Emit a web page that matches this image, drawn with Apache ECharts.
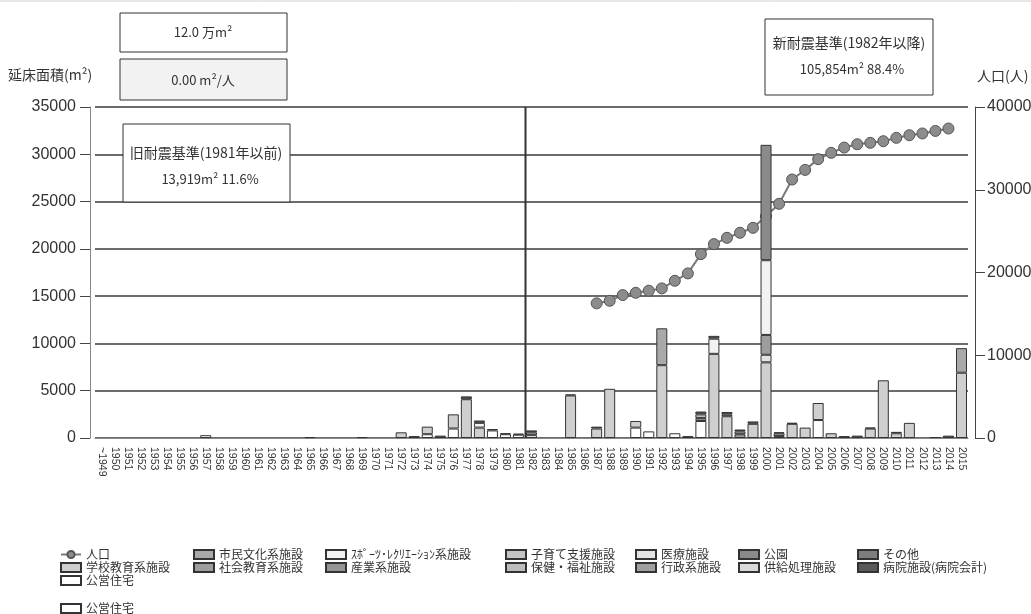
<!DOCTYPE html>
<html>
<head>
<meta charset="utf-8">
<script src="https://cdn.jsdelivr.net/npm/echarts@6/dist/echarts.min.js"></script>
<style>
  html, body { margin: 0; padding: 0; background: #fff; }
  #chart { width: 1031px; height: 614px; }
</style>
</head>
<body>
<div id="chart"></div>
<script>
// 年度（カテゴリ）
const years = ['~1949', '1950', '1951', '1952', '1953', '1954', '1955', '1956', '1957', '1958', '1959',
  '1960', '1961', '1962', '1963', '1964', '1965', '1966', '1967', '1968', '1969',
  '1970', '1971', '1972', '1973', '1974', '1975', '1976', '1977', '1978', '1979',
  '1980', '1981', '1982', '1983', '1984', '1985', '1986', '1987', '1988', '1989',
  '1990', '1991', '1992', '1993', '1994', '1995', '1996', '1997', '1998', '1999',
  '2000', '2001', '2002', '2003', '2004', '2005', '2006', '2007', '2008', '2009',
  '2010', '2011', '2012', '2013', '2014', '2015'];

// 人口（1987〜2014）
const popYears = ['1987', '1988', '1989', '1990', '1991', '1992', '1993', '1994', '1995', '1996',
  '1997', '1998', '1999', '2000', '2001', '2002', '2003', '2004', '2005', '2006',
  '2007', '2008', '2009', '2010', '2011', '2012', '2013', '2014'];
const population = [16270, 16580, 17270, 17550, 17800, 18080, 19000, 19890, 22220, 23430,
  24190, 24800, 25400, 26800, 28300, 31240, 32400, 33700, 34460, 35100,
  35500, 35670, 35870, 36270, 36590, 36800, 37110, 37400];

// 延床面積(m²) 施設分類ごと [年度, 面積]
const kouei = [['1957', 300], ['1974', 400], ['1976', 1000], ['1979', 800], ['1980', 400], ['1981', 350],
  ['1982', 300], ['1990', 1100], ['1991', 700], ['1993', 500], ['1995', 1800], ['2004', 1900]];
const gakkou = [['1972', 600], ['1974', 800], ['1976', 1500], ['1977', 4100], ['1978', 1100], ['1985', 4500],
  ['1987', 1000], ['1988', 5200], ['1990', 700], ['1992', 7700], ['1996', 8900], ['1997', 2300],
  ['1999', 1500], ['2000', 8000], ['2002', 1500], ['2003', 1100], ['2004', 1800], ['2005', 500],
  ['2008', 1000], ['2009', 6100], ['2010', 500], ['2011', 1600], ['2015', 6900]];
const kosodate = [];
const iryou = [['2000', 800], ['2001', 200]];
const shakai = [['1995', 300], ['1998', 400], ['2000', 2100]];
const hoken = [['1995', 400], ['1997', 200]];
const sports = [['1978', 500], ['1996', 1600], ['2000', 7900]];
const shimin = [['1982', 300], ['1992', 3900], ['1998', 300], ['2001', 300], ['2015', 2600]];
const gyousei = [];
const kyoukyuu = [];
const kouen = [['2000', 12200]];
const sonota = [['1965', 100], ['1969', 100]];
const sangyou = [];
const byouin = [['1973', 200], ['1975', 250], ['1977', 300], ['1978', 250], ['1979', 150], ['1980', 100],
  ['1981', 100], ['1982', 200], ['1985', 100], ['1987', 200], ['1994', 200], ['1995', 300],
  ['1996', 300], ['1997', 250], ['1998', 200], ['1999', 250], ['2001', 100], ['2002', 100],
  ['2006', 200], ['2007', 250], ['2008', 100], ['2010', 150], ['2013', 100], ['2014', 250]];
const kouei2 = [];

const jp = 'Noto Sans CJK JP';
const num = 'Liberation Sans';

function fill(pairs) {
  const out = years.map(() => '-');
  pairs.forEach(([y, v]) => { out[years.indexOf(y)] = v; });
  return out;
}

// 積み上げ順（下から）
const barDefs = [
  ['公営住宅', '#ffffff', kouei],
  ['学校教育系施設', '#cfcfcf', gakkou],
  ['子育て支援施設', '#c4c4c4', kosodate],
  ['医療施設', '#e3e3e3', iryou],
  ['社会教育系施設', '#9d9d9d', shakai],
  ['保健・福祉施設', '#bdbdbd', hoken],
  ['ｽﾎﾟｰﾂ･ﾚｸﾘｴｰｼｮﾝ系施設', '#f2f2f2', sports],
  ['市民文化系施設', '#a9a9a9', shimin],
  ['行政系施設', '#a0a0a0', gyousei],
  ['供給処理施設', '#d9d9d9', kyoukyuu],
  ['公園', '#8a8a8a', kouen],
  ['その他', '#7d7d7d', sonota],
  ['産業系施設', '#959595', sangyou],
  ['病院施設(病院会計)', '#5a5a5a', byouin],
  ['公営住宅2', '#ffffff', kouei2]
];

const barSeries = barDefs.map(([name, color, pairs]) => ({
  name: name,
  type: 'bar',
  stack: 'area',
  barWidth: 11,
  yAxisIndex: 0,
  itemStyle: { color: color, borderColor: '#333', borderWidth: 1 },
  data: fill(pairs)
}));

const popSeries = {
  name: '人口',
  type: 'line',
  yAxisIndex: 1,
  z: 1,
  symbol: 'circle',
  symbolSize: 11,
  lineStyle: { color: '#7a7a7a', width: 2 },
  itemStyle: { color: '#8c8c8c', borderColor: '#555', borderWidth: 1 },
  data: popYears.map((y, i) => [y, population[i]])
};

const legendText = { fontFamily: jp, fontSize: 12, color: '#333', lineHeight: 13 };
function col(left, top, names, extra) {
  return Object.assign({
    orient: 'vertical', left: left, top: top, itemGap: 0,
    itemWidth: 20, itemHeight: 9, textStyle: legendText,
    data: names.map(n => (n === '人口' ? { name: n } : { name: n, icon: 'rect' })),
    selectedMode: false
  }, extra || {});
}

const plain = v => String(v);

const option = {
  animation: false,
  backgroundColor: '#fff',
  grid: { left: 95, right: 63, top: 107, bottom: 176, outerBoundsMode: 'none' },
  legend: [
    col(55, 543, ['人口', '学校教育系施設', '公営住宅']),
    col(188, 543, ['市民文化系施設', '社会教育系施設']),
    col(320, 543, ['ｽﾎﾟｰﾂ･ﾚｸﾘｴｰｼｮﾝ系施設', '産業系施設']),
    col(500, 543, ['子育て支援施設', '保健・福祉施設']),
    col(630, 543, ['医療施設', '行政系施設']),
    col(733, 543, ['公園', '供給処理施設']),
    col(852, 543, ['その他', '病院施設(病院会計)']),
    col(55, 597, ['公営住宅2'], { formatter: () => '公営住宅' })
  ],
  xAxis: {
    type: 'category',
    data: years,
    boundaryGap: true,
    axisLine: { lineStyle: { color: '#888', width: 1 } },
    axisTick: { alignWithLabel: true, interval: 0, length: 5, lineStyle: { color: '#555' } },
    axisLabel: { interval: 0, rotate: -90, margin: 9, fontFamily: num, fontSize: 10.5, color: '#333' }
  },
  yAxis: [
    {
      type: 'value', min: 0, max: 35000, interval: 5000, offset: 5,
      axisLine: { show: true, lineStyle: { color: '#888' } },
      axisTick: { show: true, length: 10, lineStyle: { color: '#444' } },
      axisLabel: { margin: 14, fontFamily: num, fontSize: 16, color: '#333', formatter: plain },
      splitLine: { lineStyle: { color: '#3a3a3a', width: 1.5 } }
    },
    {
      type: 'value', min: 0, max: 40000, interval: 10000, offset: 7,
      axisLine: { show: true, lineStyle: { color: '#444' } },
      axisTick: { show: true, length: 10, lineStyle: { color: '#444' } },
      axisLabel: { margin: 12, fontFamily: num, fontSize: 16, color: '#333', formatter: plain },
      splitLine: { show: false }
    }
  ],
  graphic: {
    elements: [
      { id: 'topline', type: 'line', z: 100, shape: { x1: 0, y1: 1, x2: 1031, y2: 1 }, style: { stroke: '#d0d0d0', lineWidth: 1 } },
      { id: 'b1', type: 'rect', z: 100, shape: { x: 120, y: 13, width: 167, height: 39 }, style: { fill: '#fff', stroke: '#333', lineWidth: 1 } },
      { id: 't1', type: 'text', z: 101, x: 203, y: 32, style: { text: '12.0 万m²', fontFamily: jp, fontSize: 13, fill: '#333', align: 'center', verticalAlign: 'middle' } },
      { id: 'b2', type: 'rect', z: 100, shape: { x: 120, y: 59, width: 167, height: 41 }, style: { fill: '#f2f2f2', stroke: '#333', lineWidth: 1 } },
      { id: 't2', type: 'text', z: 101, x: 203, y: 80, style: { text: '0.00 m²/人', fontFamily: jp, fontSize: 13, fill: '#333', align: 'center', verticalAlign: 'middle' } },
      { id: 'b3', type: 'rect', z: 100, shape: { x: 123, y: 124, width: 167, height: 78 }, style: { fill: '#fff', stroke: '#333', lineWidth: 1 } },
      { id: 't3', type: 'text', z: 101, x: 206, y: 153, style: { text: '旧耐震基準(1981年以前)', fontFamily: jp, fontSize: 14, fill: '#333', align: 'center', verticalAlign: 'middle' } },
      { id: 't4', type: 'text', z: 101, x: 210, y: 179, style: { text: '13,919m² 11.6%', fontFamily: jp, fontSize: 13, fill: '#333', align: 'center', verticalAlign: 'middle' } },
      { id: 'b4', type: 'rect', z: 100, shape: { x: 765, y: 19, width: 168, height: 76 }, style: { fill: '#fff', stroke: '#333', lineWidth: 1 } },
      { id: 't5', type: 'text', z: 101, x: 849, y: 43, style: { text: '新耐震基準(1982年以降)', fontFamily: jp, fontSize: 14, fill: '#333', align: 'center', verticalAlign: 'middle' } },
      { id: 't6', type: 'text', z: 101, x: 852, y: 69, style: { text: '105,854m² 88.4%', fontFamily: jp, fontSize: 13, fill: '#333', align: 'center', verticalAlign: 'middle' } },
      { id: 'ylab', type: 'text', z: 101, x: 8, y: 75, style: { text: '延床面積(m²)', fontFamily: jp, fontSize: 14, fill: '#333', align: 'left', verticalAlign: 'middle' } },
      { id: 'ylab2', type: 'text', z: 101, x: 977, y: 76, style: { text: '人口(人)', fontFamily: jp, fontSize: 14, fill: '#333', align: 'left', verticalAlign: 'middle' } }
    ]
  },
  series: [popSeries].concat(barSeries)
};

const chart = echarts.init(document.getElementById('chart'));
chart.setOption(option);

// 1981年と1982年の境界線
const xa = chart.convertToPixel({ xAxisIndex: 0 }, '1981');
const xb = chart.convertToPixel({ xAxisIndex: 0 }, '1982');
const yTop = chart.convertToPixel({ yAxisIndex: 0 }, 35000);
const yBot = chart.convertToPixel({ yAxisIndex: 0 }, 0);
const xm = Math.round((xa + xb) / 2) + 0.5;
chart.setOption({
  graphic: {
    elements: [
      { id: 'divider', type: 'line', z: 50, shape: { x1: xm, y1: yTop, x2: xm, y2: yBot }, style: { stroke: '#333', lineWidth: 2 } }
    ]
  }
});

window.addEventListener('resize', () => chart.resize());
</script>
</body>
</html>
